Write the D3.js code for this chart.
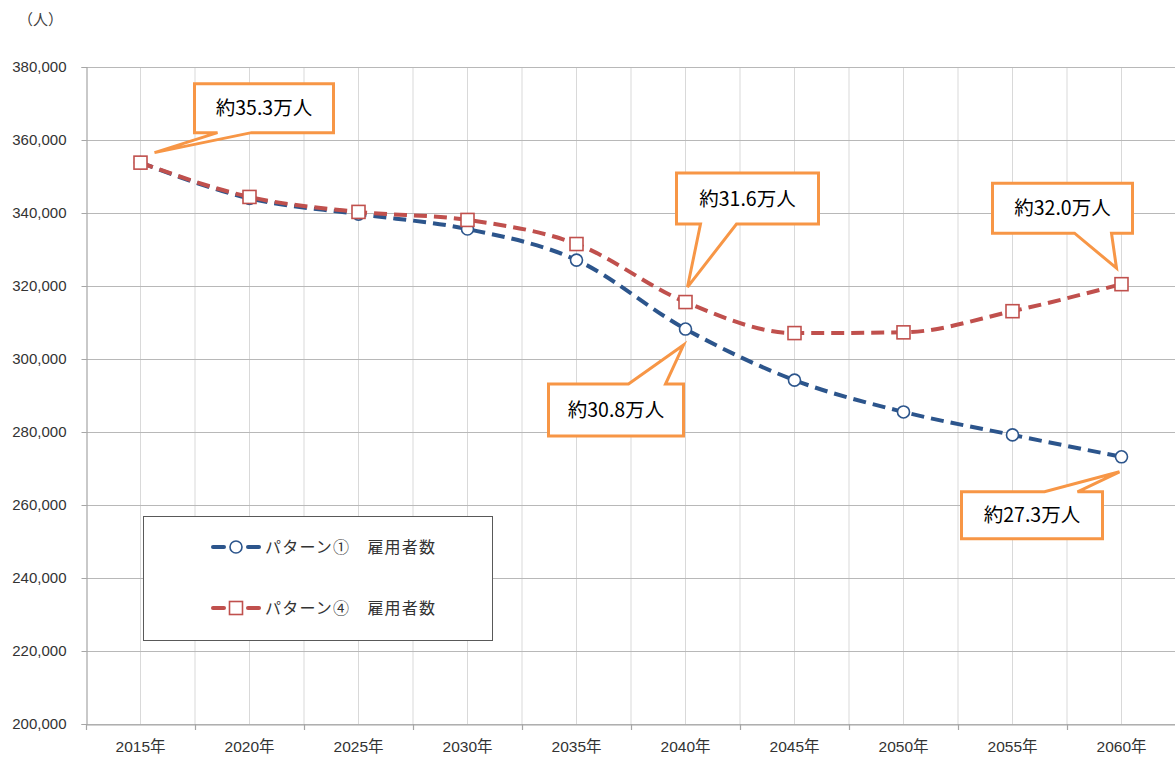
<!DOCTYPE html>
<html><head><meta charset="utf-8">
<script src="https://cdn.jsdelivr.net/npm/d3@7"></script>
<style>
body{margin:0;background:#fff;}
text{font-family:"Liberation Sans","Noto Sans CJK JP",sans-serif;}
.jp{font-family:"Noto Sans CJK JP",sans-serif;}
</style></head>
<body><svg id="c" width="1175" height="757"></svg>
<script>
const categories = ["2015年","2020年","2025年","2030年","2035年","2040年","2045年","2050年","2055年","2060年"];
const pattern1 = [353800, 344000, 339700, 335600, 327100, 308200, 294200, 285500, 279200, 273200];
const pattern4 = [353800, 344400, 340300, 338100, 331500, 315600, 307100, 307300, 313100, 320500];
const seriesNames = ["パターン①　雇用者数", "パターン④　雇用者数"];
const yTicks = [200000,220000,240000,260000,280000,300000,320000,340000,360000,380000];
const callouts = [
  {series:1, idx:0, text:"約35.3万人"},
  {series:1, idx:5, text:"約31.6万人"},
  {series:0, idx:5, text:"約30.8万人"},
  {series:1, idx:9, text:"約32.0万人"},
  {series:0, idx:9, text:"約27.3万人"}
];

const svg = d3.select("#c");
const L=86, R=1176, T=67, B=724;
const x = d3.scaleBand().domain(categories).range([L,R]);
const y = d3.scaleLinear().domain([200000,380000]).range([B,T]);
const cx = c => x(c)+x.bandwidth()/2;

// vertical gridlines (boundaries and centers)
const vg = svg.append("g");
categories.forEach((c,i)=>{
  [x(c), cx(c)].forEach(px=>{
    if (px>L+1) vg.append("line").attr("x1",px).attr("x2",px).attr("y1",T).attr("y2",B)
      .attr("stroke","#d9d9d9").attr("stroke-width",1);
  });
});
// horizontal gridlines
svg.append("g").selectAll("line").data(yTicks).join("line")
  .attr("x1",L).attr("x2",1175).attr("y1",d=>Math.round(y(d))+0.5).attr("y2",d=>Math.round(y(d))+0.5)
  .attr("stroke","#b8b8b8").attr("stroke-width",1.2);

// y axis
const ya = svg.append("g").attr("transform",`translate(${L+0.5},0)`)
  .call(d3.axisLeft(y).tickValues(yTicks).tickFormat(d3.format(",")).tickSize(5).tickPadding(15));
ya.select(".domain").attr("stroke","#a6a6a6").attr("stroke-width",1.2);
ya.selectAll(".tick line").attr("stroke","#a6a6a6");
ya.selectAll("text").attr("font-size",15).attr("fill","#333").style("font-family","Liberation Sans, sans-serif");

// x axis
const xa = svg.append("g").attr("transform",`translate(0,${B+0.5})`)
  .call(d3.axisBottom(x).tickSize(0).tickPadding(16));
xa.select(".domain").attr("stroke","#a6a6a6").attr("stroke-width",1.2);
xa.selectAll("text").attr("font-size",15.5).attr("fill","#333").style("font-family","Liberation Sans, Noto Sans CJK JP, sans-serif");
svg.append("g").selectAll("line").data(categories).join("line")
  .attr("x1",d=>x(d)+0.5).attr("x2",d=>x(d)+0.5).attr("y1",B).attr("y2",B+6)
  .attr("stroke","#a6a6a6").attr("stroke-width",1.2);

svg.append("text").attr("x",18).attr("y",25).attr("font-size",15).attr("fill","#404040")
  .attr("class","jp").text("（人）");

const colors = ["#2c558c","#c0504d"];
const series = [pattern1, pattern4];
const line = d3.line().x((d,i)=>cx(categories[i])).y(d=>y(d)).curve(d3.curveMonotoneX);

[0,1].forEach(s=>{
  svg.append("path").datum(series[s]).attr("d",line).attr("fill","none")
    .attr("stroke",colors[s]).attr("stroke-width",4).attr("stroke-dasharray","13,7");
});
// markers
svg.append("g").selectAll("circle").data(pattern1).join("circle")
  .attr("cx",(d,i)=>cx(categories[i])).attr("cy",d=>y(d)).attr("r",6)
  .attr("fill","#fff").attr("stroke",colors[0]).attr("stroke-width",1.6);
svg.append("g").selectAll("rect").data(pattern4).join("rect")
  .attr("x",(d,i)=>cx(categories[i])-6.5).attr("y",d=>y(d)-6.5).attr("width",13).attr("height",13)
  .attr("fill","#fff").attr("stroke",colors[1]).attr("stroke-width",1.6);

// callouts: offsets relative to the data point
const geom = [
  {l:54,t:-79,w:139,h:49,edge:"b",b1:77,b2:111,tip:[14,-10]},
  {l:-9,t:-129,w:142,h:51,edge:"b",b1:15,b2:51,tip:[2,-15]},
  {l:-137,t:55,w:135,h:52,edge:"t",b1:-57,b2:-20,tip:[-2,16]},
  {l:-129,t:-101,w:140,h:50,edge:"b",b1:-47,b2:-10,tip:[-5,-16]},
  {l:-160,t:35,w:141,h:47,edge:"t",b1:-77,b2:-44,tip:[-2,15]}
];
callouts.forEach((c,k)=>{
  const g = geom[k];
  const px = cx(categories[c.idx]), py = y(series[c.series][c.idx]);
  const l=px+g.l, t=py+g.t, r=l+g.w, b=t+g.h;
  const tx=px+g.tip[0], ty=py+g.tip[1];
  let pts;
  if (g.edge==="b") {
    pts=[[l,t],[r,t],[r,b],[px+g.b2,b],[tx,ty],[px+g.b1,b],[l,b]];
  } else {
    pts=[[l,t],[px+g.b1,t],[tx,ty],[px+g.b2,t],[r,t],[r,b],[l,b]];
  }
  svg.append("path").attr("d",d3.line()(pts)+"Z").attr("fill","#fff")
    .attr("stroke","#f79646").attr("stroke-width",3).attr("stroke-linejoin","miter");
  svg.append("text").attr("x",(l+r)/2).attr("y",(t+b)/2+7).attr("text-anchor","middle")
    .attr("font-size",19.5).attr("fill","#000").attr("class","jp").text(c.text);
});

// legend
const lg = svg.append("g");
lg.append("rect").attr("x",143.5).attr("y",516.5).attr("width",349).attr("height",124)
  .attr("fill","#fff").attr("stroke","#595959").attr("stroke-width",1);
[0,1].forEach(s=>{
  const ly = s===0?547:608;
  lg.append("line").attr("x1",213).attr("x2",224).attr("y1",ly).attr("y2",ly).attr("stroke",colors[s]).attr("stroke-width",4).attr("stroke-linecap","round");
  lg.append("line").attr("x1",248).attr("x2",259).attr("y1",ly).attr("y2",ly).attr("stroke",colors[s]).attr("stroke-width",4).attr("stroke-linecap","round");
  if (s===0) lg.append("circle").attr("cx",236).attr("cy",ly).attr("r",6).attr("fill","#fff").attr("stroke",colors[0]).attr("stroke-width",1.6);
  else lg.append("rect").attr("x",229.5).attr("y",ly-6.5).attr("width",13).attr("height",13).attr("fill","#fff").attr("stroke",colors[1]).attr("stroke-width",1.6);
  lg.append("text").attr("x",265).attr("y",ly+6).attr("font-size",16).attr("fill","#333")
    .attr("class","jp").style("letter-spacing","1.2px").text(seriesNames[s]);
});
</script></body></html>
